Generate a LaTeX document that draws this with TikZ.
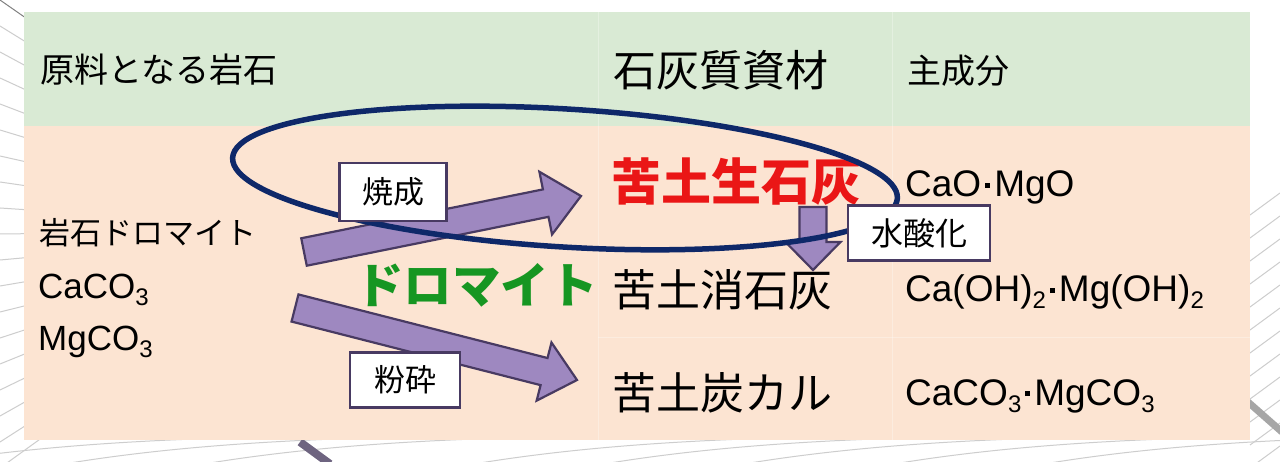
\documentclass[tikz,border=0pt]{standalone}
\usepackage{fontspec}
\setmainfont{Liberation Sans}
\newfontfamily\jp{Noto Sans CJK JP}
\usetikzlibrary{calc}

\definecolor{hdrgreen}{RGB}{217,234,212}
\definecolor{bodypeach}{RGB}{252,228,210}
\definecolor{navyring}{RGB}{14,40,105}
\definecolor{arrowfill}{RGB}{158,136,192}
\definecolor{arrowline}{RGB}{72,58,98}
\definecolor{dolgreen}{RGB}{22,150,34}
\definecolor{limered}{RGB}{234,22,22}
\definecolor{bggrey}{RGB}{205,205,205}
\definecolor{bgdark}{RGB}{110,100,128}

\newcommand{\fs}[1]{\fontsize{#1}{#1}\selectfont}
\newcommand{\chemsub}[1]{\raisebox{-7pt}{\fs{24}#1}}
\newcommand{\chemdot}{\hspace{4pt}\rule[9pt]{5pt}{5pt}\hspace{4pt}}

% block arrow: #1 from, #2 to, #3 id, #4 shaft half width, #5 head half width, #6 head length
\newcommand{\blockarrow}[6]{%
  \coordinate (#3h) at ($(#2)!#6!(#1)$);
  \draw[blockarrowstyle]
    ($(#1)!#4!90:(#2)$) -- ($(#3h)!#4!90:(#2)$) -- ($(#3h)!#5!90:(#2)$) --
    (#2) -- ($(#3h)!#5!-90:(#2)$) -- ($(#3h)!#4!-90:(#2)$) --
    ($(#1)!#4!-90:(#2)$) -- cycle;
}

\begin{document}
\begin{tikzpicture}[x=1pt,y=-1pt,
  blockarrowstyle/.style={fill=arrowfill, draw=arrowline, line width=2.2pt, line join=miter},
  labelbox/.style={draw=arrowline, line width=2.8pt, fill=white, inner sep=0pt, font=\jp\fs{31}},
  txt/.style={inner sep=0pt, anchor=base west},
  bgline/.style={draw=bggrey, line width=1pt},
  gridline/.style={draw=white, opacity=0.3, line width=1pt}]
\useasboundingbox (0,0) rectangle (1280,462);
\fill[white] (0,0) rectangle (1280,462);

% decorative background lines
\foreach \yy in {26,52,...,468} { \draw[bgline] (0,\yy) -- (330,230); }
\draw[draw=gray, line width=1pt] (0,0) -- (330,230);
\foreach \yy in {215,238,...,470} { \draw[bgline] (1250,\yy) -- (1280,\yy-22); }
\foreach \xx in {-120,20,160,430,560,700,850,1000} {
  \draw[bgline] (\xx,472) .. controls (\xx+120,448) and (\xx+250,440) .. (\xx+380,437);
}
\draw[draw=bgdark, line width=8pt] (300,442) -- (330,464);
\draw[draw=gray!70, line width=7pt] (1248,402) -- (1282,432);

% table
\fill[hdrgreen] (24,12) rectangle (1250,126);
\fill[bodypeach] (24,126) rectangle (1250,440);
\draw[gridline] (598,12) -- (598,440);
\draw[gridline] (892,12) -- (892,440);
\draw[gridline] (598,338) -- (1250,338);

% header texts
\node[txt, font=\jp\fs{34}] (h1) at (40,83) {原料となる岩石};
\node[txt, font=\jp\fs{43}] (h2) at (613,87) {石灰質資材};
\node[txt, font=\jp\fs{34}] (h3) at (907,84) {主成分};

% left column
\node[txt, font=\jp\fs{31}] (rock) at (39,245) {岩石ドロマイト};
\node[txt, font=\fs{35}] (caco) at (38,299) {CaCO\chemsub{3}};
\node[txt, font=\fs{35}] (mgco) at (38,350) {MgCO\chemsub{3}};

% middle column
\node[txt, font=\jp\bfseries\fs{50}, text=limered] (quick) at (611,201) {苦土生石灰};
\node[txt, font=\jp\fs{44}] (slaked) at (612,307) {苦土消石灰};
\node[txt, font=\jp\fs{44}] (carb) at (612,409) {苦土炭カル};
\node[txt, font=\jp\bfseries\fs{48.5}, text=dolgreen] (dolo) at (355,304) {ドロマイト};

% right column
\node[txt, font=\fs{37}] (f1) at (905,197) {CaO\chemdot MgO};
\node[txt, font=\fs{37}] (f2) at (905,302) {Ca(OH)\chemsub{2}\chemdot Mg(OH)\chemsub{2}};
\node[txt, font=\fs{37}] (f3) at (905,405) {CaCO\chemsub{3}\chemdot MgCO\chemsub{3}};

% block arrows
\coordinate (a1s) at (304,252);
\coordinate (a1e) at (581,196);
\coordinate (a2s) at (295,308);
\coordinate (a2e) at (577,380);
\coordinate (a3s) at (813,207);
\coordinate (a3e) at (813,270);
\blockarrow{a1s}{a1e}{ar1}{14pt}{32pt}{36pt}
\blockarrow{a2s}{a2e}{ar2}{14pt}{30pt}{34pt}
\blockarrow{a3s}{a3e}{ar3}{13.5pt}{27.5pt}{28pt}

% ring
\draw[navyring, line width=5.5pt, rotate around={-3.5:(565,178)}] (565,178) ellipse [x radius=333, y radius=69];

% labels
\node[labelbox, minimum width=107pt, minimum height=58pt] (lb1) at (393,192) {焼成};
\node[labelbox, minimum width=110pt, minimum height=55pt] (lb2) at (405,380) {粉砕};
\node[labelbox, minimum width=142pt, minimum height=55pt, font=\jp\fs{32}] (lb3) at (919,233) {水酸化};
\end{tikzpicture}
\end{document}
